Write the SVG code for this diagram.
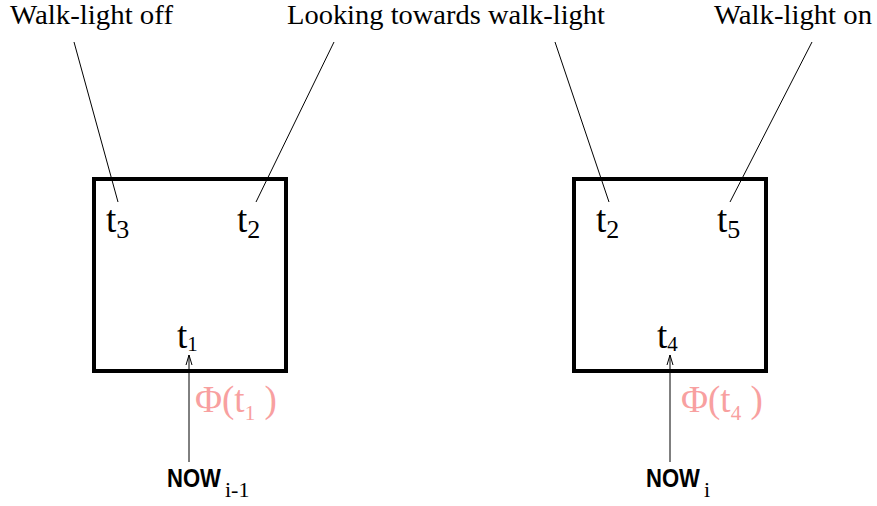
<svg xmlns="http://www.w3.org/2000/svg" width="877" height="506" viewBox="0 0 877 506">
<defs>
<style>
.box{fill:none;stroke:#000;stroke-width:4}
.ln{stroke:#000;stroke-width:1;fill:none}
.lbl{font-family:"Liberation Serif",serif;font-size:27px;fill:#000}
.t{font-family:"Liberation Serif",serif;font-size:37px;fill:#000}
.sub{font-size:26px}
.sub2{font-size:21px}
.phi{font-family:"Liberation Serif",serif;font-size:37px;fill:#f8a0a0}
.now{font-family:"Liberation Sans",sans-serif;font-weight:bold;font-size:26px;fill:#000}
.nsub{font-family:"Liberation Serif",serif;font-size:22px;fill:#000}
</style>
<marker id="ah" viewBox="0 0 10 10" refX="10" refY="5" markerWidth="10" markerHeight="10" markerUnits="userSpaceOnUse" orient="auto">
<path d="M0,2 L10,5 L0,8" fill="none" stroke="#000" stroke-width="1"/>
</marker>
</defs>
<g id="labels">
<text class="lbl" x="10" y="24" textLength="163" lengthAdjust="spacingAndGlyphs">Walk-light off</text>
<text class="lbl" x="287" y="24" textLength="318" lengthAdjust="spacingAndGlyphs">Looking towards walk-light</text>
<text class="lbl" x="714" y="24" textLength="158" lengthAdjust="spacingAndGlyphs">Walk-light on</text>
</g>
<g id="connectors">
<line class="ln" x1="74" y1="42" x2="118" y2="202"/>
<line class="ln" x1="334" y1="42" x2="256" y2="202"/>
<line class="ln" x1="555" y1="42" x2="609" y2="202"/>
<line class="ln" x1="812" y1="42" x2="730" y2="202"/>
<line class="ln" x1="189" y1="462" x2="189" y2="355" marker-end="url(#ah)"/>
<line class="ln" x1="670" y1="462" x2="670" y2="355" marker-end="url(#ah)"/>
</g>
<g id="box1">
<rect class="box" x="94" y="179" width="192" height="192"/>
<text class="t" x="106" y="232">t<tspan class="sub" dy="6">3</tspan></text>
<text class="t" x="237" y="232">t<tspan class="sub" dy="6">2</tspan></text>
<text class="t" x="177" y="348">t<tspan class="sub2" dy="3">1</tspan></text>
</g>
<g id="box2">
<rect class="box" x="574" y="179" width="192" height="192"/>
<text class="t" x="596" y="232">t<tspan class="sub" dy="6">2</tspan></text>
<text class="t" x="717" y="232">t<tspan class="sub" dy="6">5</tspan></text>
<text class="t" x="657" y="348">t<tspan class="sub2" dy="3">4</tspan></text>
</g>
<g id="phi1">
<text class="phi" x="195" y="412">Φ(t<tspan class="sub2" dy="8">1</tspan><tspan dy="-8"> )</tspan></text>
</g>
<g id="phi2">
<text class="phi" x="681" y="412">Φ(t<tspan class="sub2" dy="8">4</tspan><tspan dy="-8"> )</tspan></text>
</g>
<g id="now1">
<text class="now" transform="translate(167,487) scale(0.85,1)">NOW</text>
<text class="nsub" x="225" y="497">i-1</text>
</g>
<g id="now2">
<text class="now" transform="translate(646,487) scale(0.85,1)">NOW</text>
<text class="nsub" x="704" y="497">i</text>
</g>
</svg>
